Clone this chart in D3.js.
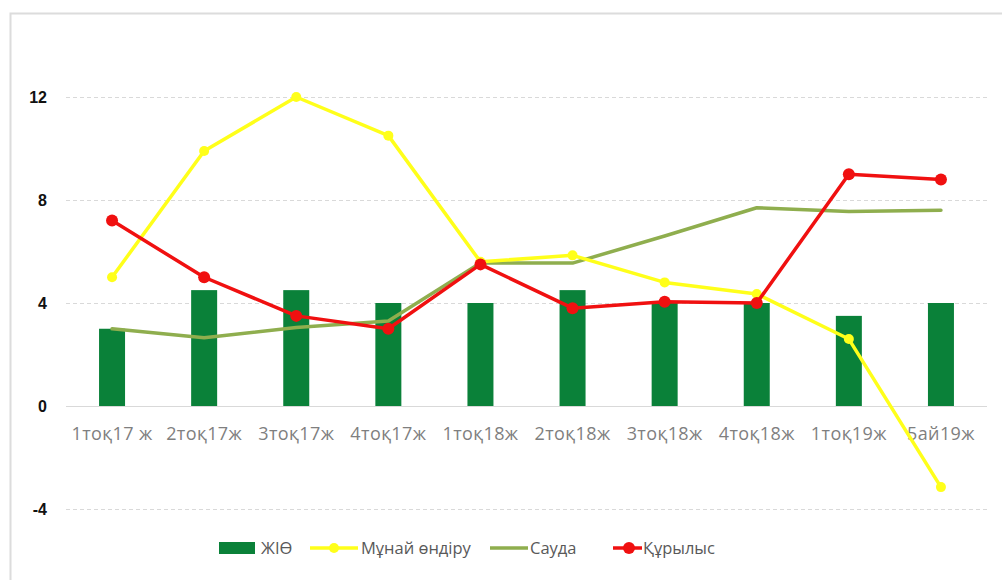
<!DOCTYPE html>
<html>
<head>
<meta charset="utf-8">
<script src="https://cdn.jsdelivr.net/npm/d3@7"></script>
<style>
  html, body { margin: 0; padding: 0; background: #fff; }
  svg { display: block; }
</style>
</head>
<body>
<svg id="chart" width="1002" height="580"></svg>
<script>
// Quarterly growth indicators, %
const categories = ["1тоқ17 ж", "2тоқ17ж", "3тоқ17ж", "4тоқ17ж", "1тоқ18ж", "2тоқ18ж", "3тоқ18ж", "4тоқ18ж", "1тоқ19ж", "5ай19ж"];
const gdp      = [3.0, 4.5, 4.5, 4.0, 4.0, 4.5, 4.0, 4.0, 3.5, 4.0];   // ЖІӨ
const oil      = [5.0, 9.9, 12.0, 10.5, 5.6, 5.85, 4.8, 4.35, 2.6, -3.15]; // Мұнай өндіру
const trade    = [3.0, 2.65, 3.05, 3.3, 5.55, 5.55, 6.6, 7.7, 7.55, 7.6]; // Сауда
const construc = [7.2, 5.0, 3.5, 3.0, 5.5, 3.8, 4.05, 4.0, 9.0, 8.8];     // Құрылыс
const yTicks   = [-4, 0, 4, 8, 12];
const legendNames = ["ЖІӨ", "Мұнай өндіру", "Сауда", "Құрылыс"];

const colors = { gdp: "#0a8139", oil: "#ffff1a", trade: "#8fae4e", cons: "#f01010" };

const svg = d3.select("#chart");

// outer chart frame
svg.append("path")
  .attr("d", "M10.5,580 L10.5,13.5 L1002,13.5")
  .attr("fill", "none").attr("stroke", "#dcdcdc").attr("stroke-width", 2);

const left = 66, right = 987;
const x = d3.scaleBand().domain(categories).range([left, right]).paddingInner(0).paddingOuter(0);
const y = d3.scaleLinear().domain([-4, 12]).range([509, 97]);

// gridlines
svg.append("g").selectAll("line").data(yTicks).join("line")
  .attr("x1", left).attr("x2", right)
  .attr("y1", d => Math.round(y(d)) + 0.5).attr("y2", d => Math.round(y(d)) + 0.5)
  .attr("stroke", "#d9d9d9").attr("stroke-width", 1)
  .attr("stroke-dasharray", d => d === 0 ? null : "4,3");

// y axis labels
const yAxis = d3.axisLeft(y).tickValues(yTicks).tickSize(0).tickPadding(0).tickFormat(d => String(d));
const gy = svg.append("g").attr("transform", "translate(47,0)").call(yAxis);
gy.select(".domain").remove();
gy.selectAll("text")
  .attr("font-family", "Liberation Sans, Arial, sans-serif")
  .attr("font-size", 16).attr("font-weight", "bold").attr("fill", "#111");

// x axis labels
const xAxis = d3.axisBottom(x).tickSize(0).tickPadding(0);
const gx = svg.append("g").attr("transform", "translate(0,427)").call(xAxis);
gx.select(".domain").remove();
gx.selectAll("text")
  .attr("font-family", "Open Sans, DejaVu Sans, sans-serif")
  .attr("font-size", 18).attr("letter-spacing", 0.4).attr("fill", "#7f7f7f");

// bars
const barW = 26;
svg.append("g").selectAll("rect").data(gdp).join("rect")
  .attr("x", (d, i) => x(categories[i]) + x.bandwidth() / 2 - barW / 2)
  .attr("width", barW)
  .attr("y", d => y(Math.max(0, d)))
  .attr("height", d => Math.abs(y(d) - y(0)))
  .attr("fill", colors.gdp);

const cx = i => x(categories[i]) + x.bandwidth() / 2;
const line = d3.line().x((d, i) => cx(i)).y(d => y(d));

function drawSeries(values, color, width, markerR) {
  const g = svg.append("g");
  g.append("path").datum(values)
    .attr("d", line).attr("fill", "none")
    .attr("stroke", color).attr("stroke-width", width)
    .attr("stroke-linejoin", "round").attr("stroke-linecap", "round");
  if (markerR > 0) {
    g.selectAll("circle").data(values).join("circle")
      .attr("cx", (d, i) => cx(i)).attr("cy", d => y(d))
      .attr("r", markerR).attr("fill", color);
  }
}

drawSeries(trade, colors.trade, 3.5, 0);
drawSeries(oil, colors.oil, 3.5, 5);
drawSeries(construc, colors.cons, 3.5, 6);

// legend
const lg = svg.append("g").attr("font-family", "Open Sans, DejaVu Sans, sans-serif")
  .attr("font-size", 16.5).attr("fill", "#595959");
const ly = 548;
// ЖІӨ
lg.append("rect").attr("x", 219).attr("y", ly - 6).attr("width", 36).attr("height", 12).attr("fill", colors.gdp);
lg.append("text").attr("x", 261).attr("y", ly + 6).text(legendNames[0]);
// Мұнай өндіру
lg.append("line").attr("x1", 310).attr("x2", 358).attr("y1", ly).attr("y2", ly).attr("stroke", colors.oil).attr("stroke-width", 3.5);
lg.append("circle").attr("cx", 334).attr("cy", ly).attr("r", 5).attr("fill", colors.oil);
lg.append("text").attr("x", 361).attr("y", ly + 6).text(legendNames[1]);
// Сауда
lg.append("line").attr("x1", 490).attr("x2", 528).attr("y1", ly).attr("y2", ly).attr("stroke", colors.trade).attr("stroke-width", 3.5);
lg.append("text").attr("x", 530).attr("y", ly + 6).text(legendNames[2]);
// Құрылыс
lg.append("line").attr("x1", 613).attr("x2", 642).attr("y1", ly).attr("y2", ly).attr("stroke", colors.cons).attr("stroke-width", 3.5);
lg.append("circle").attr("cx", 629).attr("cy", ly).attr("r", 6).attr("fill", colors.cons);
lg.append("text").attr("x", 643).attr("y", ly + 6).text(legendNames[3]);
</script>
</body>
</html>
